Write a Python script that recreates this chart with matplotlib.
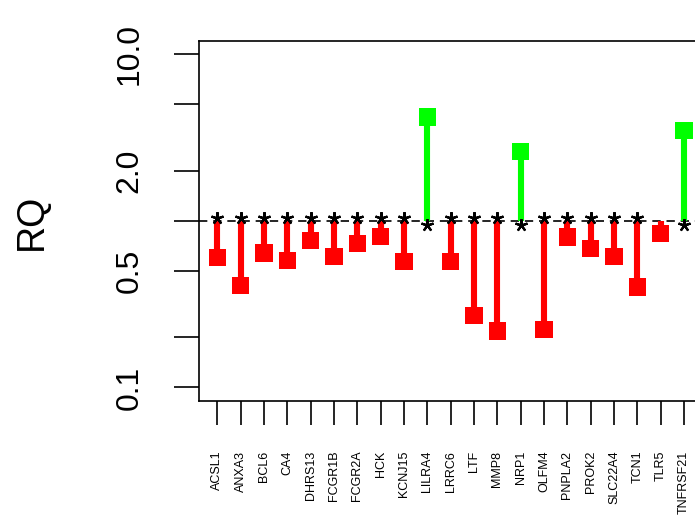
import numpy as np
import matplotlib.pyplot as plt
import matplotlib.transforms as mtransforms

plt.rcParams['font.family'] = ['Liberation Sans', 'DejaVu Sans']

genes = ["ACSL1", "ANXA3", "BCL6", "CA4", "DHRS13", "FCGR1B", "FCGR2A", "HCK",
         "KCNJ15", "LILRA4", "LRRC6", "LTF", "MMP8", "NRP1", "OLFM4", "PNPLA2",
         "PROK2", "SLC22A4", "TCN1", "TLR5", "TNFRSF21"]
rq = [0.60, 0.41, 0.64, 0.58, 0.765, 0.61, 0.73, 0.805,
      0.57, 4.2, 0.57, 0.27, 0.218, 2.6, 0.223, 0.80,
      0.685, 0.61, 0.40, 0.84, 3.48]
signif = [1, 1, 1, 1, 1, 1, 1, 1, 1, 1, 1, 1, 1, 1, 1, 1, 1, 1, 1, 0, 1]

yticks = [0.1, 0.2, 0.5, 1.0, 2.0, 5.0, 10.0]
ytick_labels = ["0.1", "", "0.5", "", "2.0", "", "10.0"]

x = np.arange(1, len(genes) + 1)
rq = np.array(rq)
cols = np.where(rq >= 1, "#00ff00", "#ff0000")

fig = plt.figure(figsize=(6.95, 5.29), dpi=100)
# plot box runs past the right edge like in the original
ax = fig.add_axes([198.7 / 695, 1 - 400.7 / 529, (702.7 - 198.7) / 695, (400.7 - 41) / 529])

ax.set_yscale("log")
ax.set_xlim(0.2, 21.8)
ax.set_ylim(10 ** -1.08, 10 ** 1.08)

ax.axhline(1.0, color="black", lw=1.2, ls=(0, (5, 3.5)), zorder=1)
ax.vlines(x, 1.0, rq, colors=cols, lw=4.4, zorder=2)
ax.scatter(x, rq, marker="s", s=12.5 ** 2, c=cols, zorder=3, linewidths=0)

# asterisks: above the line for down-regulated, below for up-regulated
up = mtransforms.offset_copy(ax.transData, fig=fig, y=-4.5, units="dots")
down = mtransforms.offset_copy(ax.transData, fig=fig, y=3, units="dots")
for xi, v, s in zip(x, rq, signif):
    if not s:
        continue
    tr = up if v >= 1 else down
    ax.plot(xi, 1.0, marker=(5, 2, 0), ms=9, mew=1.6, color="black",
            transform=tr, zorder=4)

ax.set_yticks(yticks)
ax.set_yticklabels(ytick_labels, rotation=90, va="center", fontsize=23)
ax.yaxis.set_minor_locator(plt.NullLocator())
ax.set_xticks(x)
ax.set_xticklabels(genes, rotation=90, fontsize=9, va="top")
ax.tick_params(axis="y", length=18, width=1.2, pad=21)
ax.tick_params(axis="x", length=17, width=1.2, pad=19)
for sp in ax.spines.values():
    sp.set_linewidth(1.2)

fig.text(32 / 695, 1 - 222 / 529, "RQ", rotation=90, ha="center", va="center", fontsize=27)

fig.savefig("out.png", dpi=100)
